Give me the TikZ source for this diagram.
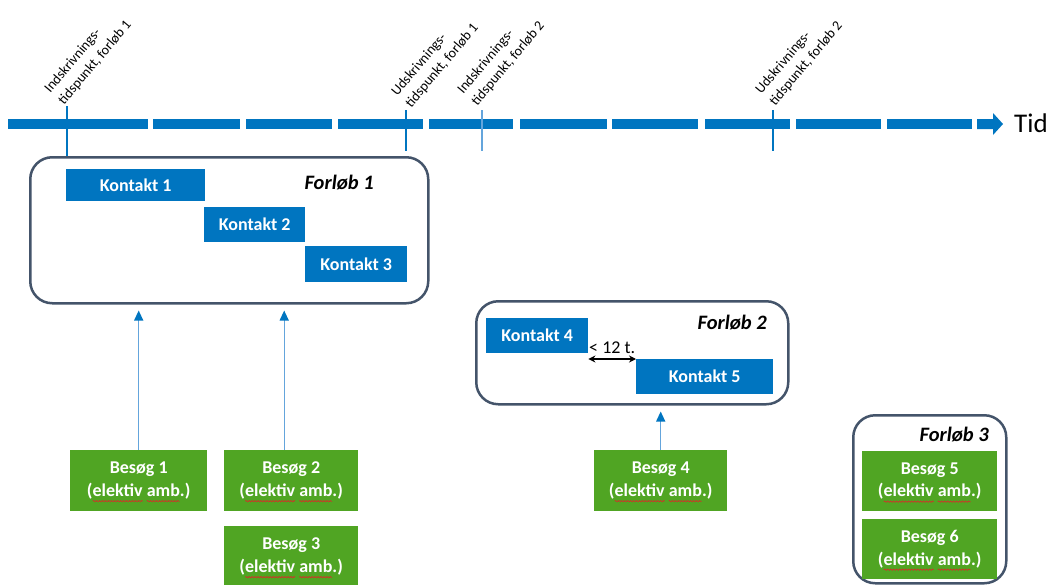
\documentclass[tikz,border=0pt]{standalone}
\usepackage{fontspec}
\setmainfont{Carlito}
\usetikzlibrary{arrows.meta,calc,decorations.pathmorphing}
\definecolor{tblue}{RGB}{0,117,192}
\definecolor{lblue}{RGB}{100,165,220}
\definecolor{tgreen}{RGB}{80,165,35}
\definecolor{framec}{RGB}{68,84,106}
\definecolor{squigred}{RGB}{220,40,40}
\tikzset{
  kbox/.style={fill=tblue, text=white, font=\fontsize{18}{20}\selectfont\bfseries, inner sep=0pt, anchor=north west},
  gbox/.style={fill=tgreen, text=white, font=\fontsize{18}{22.5}\selectfont\bfseries, align=center, inner sep=0pt, anchor=north west},
  fbox/.style={draw=framec, line width=2.5pt, rounded corners=22pt, fill=white, inner sep=0pt, anchor=north west},
  ftext/.style={font=\fontsize{20.5}{22}\selectfont\bfseries\itshape, inner sep=0pt, anchor=east},
  tick/.style={draw=tblue, line width=1.3pt},
  ticklabel/.style={font=\fontsize{14}{18}\selectfont, align=left, inner sep=0pt, anchor=south west, rotate=50},
  varrow/.style={draw=lblue, line width=1.3pt, -{Triangle[length=10pt,width=9pt,color=tblue]}, shorten >=6pt},
  seg/.style={fill=tblue},
  squiggle/.style={draw=squigred, line width=0.6pt, decorate, decoration={snake, segment length=3pt, amplitude=0.7pt}},
}
\newcommand\squig[1]{%
  \draw[squiggle] ($(#1.center)+(-46,20.5)$) -- ($(#1.center)+(4,20.5)$);
  \draw[squiggle] ($(#1.center)+(8,20.5)$) -- ($(#1.center)+(41,20.5)$);
}
\begin{document}
\begin{tikzpicture}[x=1pt,y=-1pt]
\useasboundingbox (0,0) rectangle (1049,584);
\clip (0,0) rectangle (1049,584);

% timeline segments
\foreach \a/\b in {8/148,153/240,246/332,338/423,429/513,520/607,612/698,705/790,796/881,887/972}{
  \fill[seg] (\a,119) rectangle (\b,129);
}
\fill[seg] (977,119) -- (993,119) -- (993,113) -- (1003,124) -- (993,135) -- (993,129) -- (977,129) -- cycle;
\node[font=\fontsize{27}{29}\selectfont, anchor=west, inner sep=0pt] (tid) at (1014,123) {Tid};

% tick lines
\coordinate (t1top) at (67,106);  \coordinate (t1bot) at (67,157);
\coordinate (t2top) at (406,110); \coordinate (t2bot) at (406,151);
\coordinate (t3top) at (482,110); \coordinate (t3bot) at (482,151);
\coordinate (t4top) at (773,110); \coordinate (t4bot) at (773,151);
\draw[tick] (t1top) -- (t1bot);
\draw[tick] (t2top) -- (t2bot);
\draw[tick, draw=lblue] (t3top) -- (t3bot);
\draw[tick] (t4top) -- (t4bot);
\node[ticklabel] (l1) at ([xshift=-1pt,yshift=-1pt]t1top) {Indskrivnings-\\tidspunkt, forløb 1};
\node[ticklabel] (l2) at ([xshift=7pt,yshift=0pt]t2top) {Udskrivnings-\\tidspunkt, forløb 1};
\node[ticklabel] (l3) at ([xshift=-3pt,yshift=2pt]t3top) {Indskrivnings-\\tidspunkt, forløb 2};
\node[ticklabel] (l4) at ([xshift=4pt,yshift=2pt]t4top) {Udskrivnings-\\tidspunkt, forløb 2};

% Forløb 1
\node[fbox, minimum width=398pt, minimum height=146pt] (f1) at (29,156) {};
\node[kbox, minimum width=139pt, minimum height=32pt] (k1) at (66,169) {Kontakt 1};
\node[kbox, minimum width=101pt, minimum height=35pt] (k2) at (204,207) {Kontakt 2};
\node[kbox, minimum width=102pt, minimum height=36pt] (k3) at (305,246) {Kontakt 3};
\node[ftext] (f1t) at (374,183) {Forløb 1};

% Forløb 2
\node[fbox, minimum width=312pt, minimum height=103pt] (f2) at (475,300) {};
\node[kbox, minimum width=102pt, minimum height=35pt] (k4) at (486,318) {Kontakt 4};
\node[kbox, minimum width=137pt, minimum height=35pt] (k5) at (636,359) {Kontakt 5};
\node[ftext] (f2t) at (767,323) {Forløb 2};
\draw[line width=1.4pt, {Stealth[length=7pt,width=7pt]}-{Stealth[length=7pt,width=7pt]}] (k4.east |- k5.north) -- (k5.north west);
\node[font=\fontsize{18}{20}\selectfont, inner sep=0pt, anchor=south] (lt) at ($(k4.east |- k5.north)!0.5!(k5.north west)+(0,-5)$) {< 12 t.};

% Forløb 3
\node[fbox, minimum width=153pt, minimum height=168pt] (f3) at (852,414) {};
\node[ftext] (f3t) at (989,435) {Forløb 3};
\node[gbox, minimum width=135pt, minimum height=60pt] (b5) at (862,451) {Besøg 5\\(elektiv amb.)};
\node[gbox, minimum width=135pt, minimum height=60pt] (b6) at (862,519) {Besøg 6\\(elektiv amb.)};

% Besøg boxes
\node[gbox, minimum width=137pt, minimum height=61pt] (b1) at (70,450) {Besøg 1\\(elektiv amb.)};
\node[gbox, minimum width=134pt, minimum height=61pt] (b2) at (224,450) {Besøg 2\\(elektiv amb.)};
\node[gbox, minimum width=134pt, minimum height=61pt] (b3) at (224,526) {Besøg 3\\(elektiv amb.)};
\node[gbox, minimum width=133pt, minimum height=61pt] (b4) at (594,450) {Besøg 4\\(elektiv amb.)};
\squig{b1}\squig{b2}\squig{b3}\squig{b4}\squig{b5}\squig{b6}

% arrows
\draw[varrow] (b1.north) -- (b1.north |- f1.south);
\draw[varrow] ([xshift=-7pt]b2.north) -- ([xshift=-7pt]b2.north |- f1.south);
\draw[varrow] (b4.north) -- (b4.north |- f2.south);
\end{tikzpicture}
\end{document}
